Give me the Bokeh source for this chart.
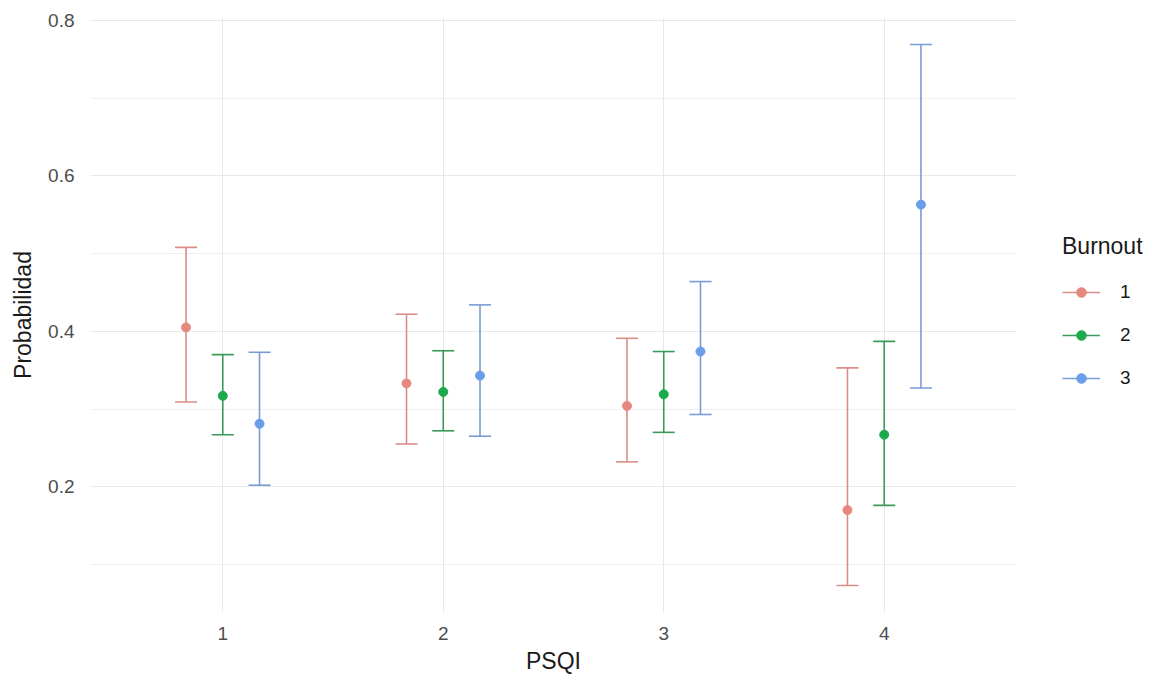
import numpy as np
from bokeh.plotting import figure
from bokeh.layouts import row
from bokeh.models import ColumnDataSource, Range1d, FixedTicker, Legend, LegendItem
from bokeh.embed import file_html
from bokeh.resources import INLINE

# ---- data ----
psqi = ["1", "2", "3", "4"]
burnout = ["1", "2", "3"]

prob_b1 = [0.405, 0.333, 0.304, 0.170]
lower_b1 = [0.309, 0.255, 0.232, 0.073]
upper_b1 = [0.508, 0.422, 0.391, 0.353]

prob_b2 = [0.317, 0.322, 0.319, 0.267]
lower_b2 = [0.267, 0.272, 0.270, 0.176]
upper_b2 = [0.370, 0.375, 0.374, 0.387]

prob_b3 = [0.281, 0.343, 0.374, 0.563]
lower_b3 = [0.202, 0.265, 0.293, 0.327]
upper_b3 = [0.373, 0.434, 0.464, 0.769]

y_ticks = [0.2, 0.4, 0.6, 0.8]
y_minor = [0.1, 0.3, 0.5, 0.7]

# ---- styles ----
point_colors = ["#E8877E", "#1DAA4E", "#6A9EEA"]
bar_colors = ["#D98E88", "#3A9A5A", "#7A9BD6"]
dodge_width = 0.5
cap_width = 0.1
FONT = "Liberation Sans"
H = 686
W_MAIN = 1026
W_LEG = 139
FRAME_BOTTOM = 612

series = [
    (prob_b1, lower_b1, upper_b1),
    (prob_b2, lower_b2, upper_b2),
    (prob_b3, lower_b3, upper_b3),
]

all_lo = min(min(s[1]) for s in series)
all_hi = max(max(s[2]) for s in series)
pad = 0.05 * (all_hi - all_lo)

p = figure(width=W_MAIN, height=H, output_backend="svg", toolbar_location=None,
           x_range=Range1d(0.4, len(psqi) + 0.6),
           y_range=Range1d(all_lo - pad, all_hi + pad),
           min_border_left=90, min_border_right=10,
           min_border_top=17, min_border_bottom=H - FRAME_BOTTOM)
p.outline_line_color = None
p.background_fill_color = "white"
p.border_fill_color = "white"

# legend-only figure (its view range lies away from the data, so only the keys show)
q = figure(width=W_LEG, height=H, output_backend="svg", toolbar_location=None,
           x_range=Range1d(-2, -1), y_range=Range1d(-2, -1),
           x_axis_location=None, y_axis_location=None,
           min_border_left=0, min_border_right=0, min_border_top=0, min_border_bottom=0)
q.outline_line_color = None
q.xgrid.visible = False
q.ygrid.visible = False
q.background_fill_color = "white"
q.border_fill_color = "white"

base_x = np.arange(1, len(psqi) + 1, dtype=float)
n = len(burnout)
items = []
for i, (prob, lo, hi) in enumerate(series):
    off = (i - (n - 1) / 2) * dodge_width / n
    x = base_x + off
    src = ColumnDataSource(dict(x=x, x0=x - cap_width / 2, x1=x + cap_width / 2,
                                prob=prob, lo=lo, hi=hi))
    p.segment(x0="x", y0="lo", x1="x", y1="hi", source=src,
              line_color=bar_colors[i], line_width=1.6)
    p.segment(x0="x0", y0="lo", x1="x1", y1="lo", source=src,
              line_color=bar_colors[i], line_width=1.6)
    p.segment(x0="x0", y0="hi", x1="x1", y1="hi", source=src,
              line_color=bar_colors[i], line_width=1.6)
    p.scatter(x="x", y="prob", source=src, size=9,
              fill_color=point_colors[i], line_color=point_colors[i])
    # legend keys: same data and styles, drawn in the legend figure
    k_seg = q.segment(x0="x", y0="lo", x1="x", y1="hi", source=src,
                      line_color=bar_colors[i], line_width=1.6)
    k_pt = q.scatter(x="x", y="prob", source=src, size=9,
                     fill_color=point_colors[i], line_color=point_colors[i])
    items.append(LegendItem(label=burnout[i], renderers=[k_seg, k_pt]))

# axes
p.xaxis.ticker = FixedTicker(ticks=list(base_x))
p.xaxis.major_label_overrides = {float(v): lab for v, lab in zip(base_x, psqi)}
p.yaxis.ticker = FixedTicker(ticks=y_ticks, minor_ticks=y_minor)
p.xgrid.ticker = FixedTicker(ticks=list(base_x))

for ax in (p.xaxis[0], p.yaxis[0]):
    ax.axis_line_color = None
    ax.major_tick_line_color = None
    ax.minor_tick_line_color = None
    ax.major_tick_out = 0
    ax.major_tick_in = 0
    ax.major_label_text_font = FONT
    ax.major_label_text_font_size = "19px"
    ax.major_label_text_color = "#4D4D4D"
    ax.axis_label_text_font = FONT
    ax.axis_label_text_font_size = "23px"
    ax.axis_label_text_font_style = "normal"
    ax.axis_label_text_color = "#1A1A1A"

p.xaxis.axis_label = "PSQI"
p.yaxis.axis_label = "Probabilidad"
p.xaxis.major_label_standoff = 14
p.xaxis.axis_label_standoff = 5
p.yaxis.major_label_standoff = 12
p.yaxis.axis_label_standoff = 9

p.xgrid.grid_line_color = "#E8E8E8"
p.xgrid.grid_line_width = 1
p.ygrid.grid_line_color = "#E8E8E8"
p.ygrid.grid_line_width = 1
p.ygrid.minor_grid_line_color = "#EFEFEF"
p.ygrid.minor_grid_line_width = 1

legend = Legend(items=items, title="Burnout", location=(1062 - W_MAIN, FRAME_BOTTOM - 390))
legend.title_text_font = FONT
legend.title_text_font_size = "23px"
legend.title_text_font_style = "normal"
legend.title_text_color = "#1A1A1A"
legend.title_standoff = 20
legend.label_text_font = FONT
legend.label_text_font_size = "19px"
legend.label_text_color = "#1A1A1A"
legend.glyph_width = 38
legend.glyph_height = 24
legend.label_height = 24
legend.label_standoff = 20
legend.spacing = 19
legend.padding = 0
legend.margin = 0
legend.border_line_color = None
legend.background_fill_alpha = 0
q.add_layout(legend, "center")

layout = row(p, q, spacing=0)
open("out.html", "w").write(file_html(layout, INLINE))
